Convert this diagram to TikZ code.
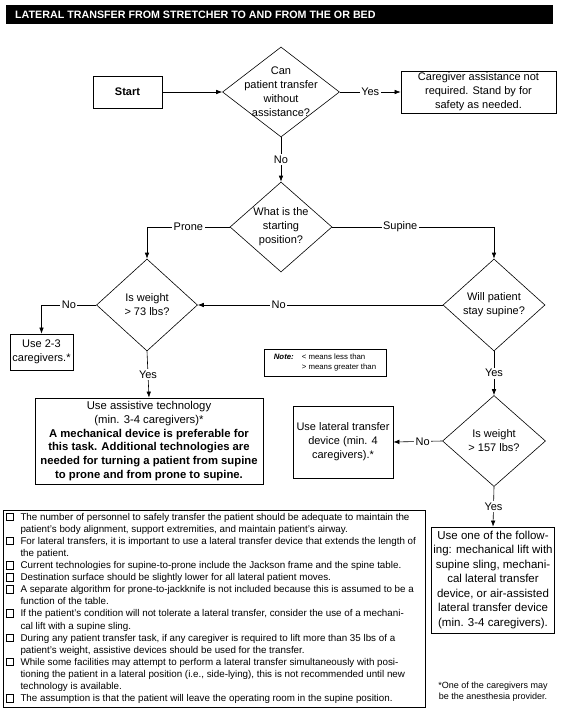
\documentclass[tikz,border=0pt]{standalone}
\usepackage{fontspec}
\setmainfont{Liberation Sans}
\usetikzlibrary{shapes.geometric,arrows.meta}
\tikzset{
  box/.style={draw, line width=0.7pt, align=center, inner sep=2pt},
  dec/.style={diamond, draw, line width=0.6pt, inner sep=0pt},
  arr/.style={-{Latex[length=6pt,width=4.5pt]}, line width=0.6pt},
  lab/.style={fill=white, inner sep=1.5pt},
}
\newcommand{\bxsym}{{\setlength\fboxsep{0pt}\setlength\fboxrule{0.5pt}\fbox{\rule{0pt}{7pt}\rule{7pt}{0pt}}}}
\begin{document}
\begin{tikzpicture}[x=1pt, y=-1pt, font=\fontsize{11}{14}\selectfont]
  \useasboundingbox (0,0) rectangle (560,709);

  \fill (6,5) rectangle (553,24);
  \node[anchor=west, text=white, inner sep=0pt, font=\bfseries\fontsize{10.7}{12}\selectfont] (ttl) at (15,14.5) {LATERAL TRANSFER FROM STRETCHER TO AND FROM THE OR BED};

  \node[box, minimum width=69pt, minimum height=32pt] (start) at (127.5,92) {\textbf{Start}};
  \node[dec, minimum width=117pt, minimum height=90pt] (q1) at (281,92) {};
  \node[align=center, inner sep=0pt] (q1t) at (q1) {Can\\patient transfer\\without\\assistance?};
  \node[box, minimum width=155pt, minimum height=42pt] (care) at (478.5,92) {Caregiver assistance not\\required. Stand by for\\safety as needed.};

  \node[dec, minimum width=102pt, minimum height=90pt] (q2) at (281,227) {};
  \node[align=center, inner sep=0pt] (q2t) at (q2) {What is the\\starting\\position?};

  \node[dec, minimum width=101pt, minimum height=92pt] (w1) at (147,305) {};
  \node[align=center, inner sep=0pt] (w1t) at (w1) {Is weight\\> 73 lbs?};
  \node[dec, minimum width=102pt, minimum height=92pt] (s1) at (494,305) {};
  \node[align=center, inner sep=0pt] (s1t) at (s1) {Will patient\\stay supine?};

  \node[box, minimum width=63pt, minimum height=36pt, inner sep=1pt] (few) at (41.5,352) {Use 2-3\\caregivers.*};
  \node[draw, line width=0.6pt, minimum width=122pt, minimum height=27pt, inner sep=2pt, font=\fontsize{7.8}{9.5}\selectfont] (note) at (325,362.5) {\begin{tabular}{@{}l@{\hspace{8pt}}l@{}}\textbf{\textit{Note:}} & < means less than\\ & > means greater than\end{tabular}};

  \node[box, minimum width=228pt, minimum height=86pt, font=\fontsize{11.3}{13.7}\selectfont] (assist) at (149,441) {Use assistive technology\\(min. 3-4 caregivers)*\\\textbf{A mechanical device is preferable for}\\\textbf{this task. Additional technologies are}\\\textbf{needed for turning a patient from supine}\\\textbf{to prone and from prone to supine.}};

  \node[dec, minimum width=103pt, minimum height=91pt] (q3) at (494,441) {};
  \node[align=center, inner sep=0pt] (q3t) at (q3) {Is weight\\> 157 lbs?};
  \node[box, minimum width=100pt, minimum height=72pt] (lat) at (343,442) {Use lateral transfer\\device (min. 4\\caregivers).*};

  \node[box, minimum width=122pt, minimum height=106pt, font=\fontsize{11.5}{14.5}\selectfont] (final) at (493,580) {Use one of the follow-\\ing: mechanical lift with\\supine sling, mechani-\\cal lateral transfer\\device, or air-assisted\\lateral transfer device\\(min. 3-4 caregivers).};

  \node[draw, line width=0.7pt, minimum width=422pt, minimum height=197pt, inner sep=0pt, font=\fontsize{9.8}{12.1}\selectfont] (notes) at (214,608.5) {%
    \begin{tabular}{@{}p{15pt}@{}p{402pt}@{}}
    \bxsym & The number of personnel to safely transfer the patient should be adequate to maintain the\\
           & patient's body alignment, support extremities, and maintain patient's airway.\\
    \bxsym & For lateral transfers, it is important to use a lateral transfer device that extends the length of\\
           & the patient.\\
    \bxsym & Current technologies for supine-to-prone include the Jackson frame and the spine table.\\
    \bxsym & Destination surface should be slightly lower for all lateral patient moves.\\
    \bxsym & A separate algorithm for prone-to-jackknife is not included because this is assumed to be a\\
           & function of the table.\\
    \bxsym & If the patient's condition will not tolerate a lateral transfer, consider the use of a mechani-\\
           & cal lift with a supine sling.\\
    \bxsym & During any patient transfer task, if any caregiver is required to lift more than 35 lbs of a\\
           & patient's weight, assistive devices should be used for the transfer.\\
    \bxsym & While some facilities may attempt to perform a lateral transfer simultaneously with posi-\\
           & tioning the patient in a lateral position (i.e., side-lying), this is not recommended until new\\
           & technology is available.\\
    \bxsym & The assumption is that the patient will leave the operating room in the supine position.
    \end{tabular}};

  \node[align=center, inner sep=0pt, font=\fontsize{9}{11.5}\selectfont] (foot) at (493,691.5) {*One of the caregivers may\\be the anesthesia provider.};

  \draw[arr] (start) -- (q1.west);
  \draw[arr] (q1.east) -- node[lab] {Yes} (care.west);
  \draw[arr] (q1.south) -- node[lab] {No} (q2.north);
  \draw[arr] (q2.west) -| node[lab, pos=0.25] {Prone} (w1.north);
  \draw[arr] (q2.east) -| node[lab, pos=0.21] {Supine} (s1.north);
  \draw[arr] (w1.west) -| node[lab, pos=0.25] {No} (few.north);
  \draw[arr] (s1.west) -- node[lab, pos=0.67] {No} (w1.east);
  \draw[arr] (w1.south) -- node[lab] {Yes} (assist.north);
  \draw[arr] (s1.south) -- node[lab] {Yes} (q3.north);
  \draw[arr] (q3.west) -- node[lab, pos=0.4] {No} (lat.east);
  \draw[arr] (q3.south) -- node[lab] {Yes} (final.north);
\end{tikzpicture}
\end{document}
